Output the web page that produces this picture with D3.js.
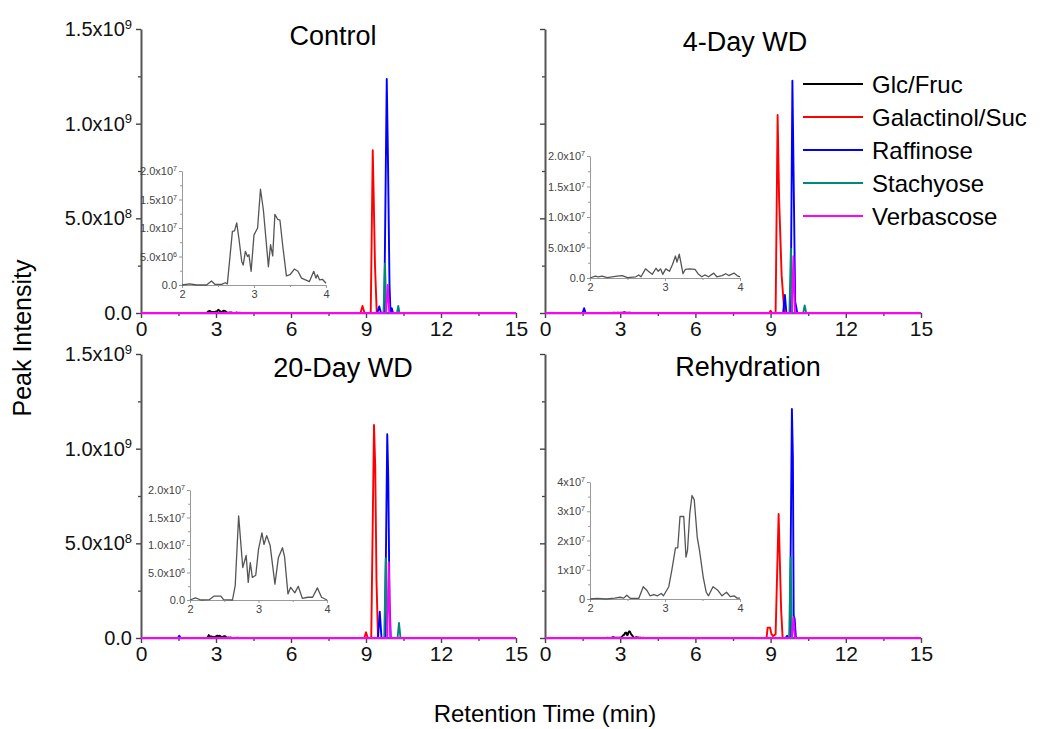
<!DOCTYPE html>
<html>
<head>
<meta charset="utf-8">
<script src="https://cdn.jsdelivr.net/npm/d3@7"></script>
<style>
  body { margin: 0; background: #fff; }
  text { font-family: "Liberation Sans", Arial, sans-serif; }
</style>
</head>
<body>
<svg id="chart" width="1050" height="729"></svg>
<script>
// ---- data (retention time in min, peak intensity) ----
var seriesNames = ["Glc/Fruc", "Galactinol/Suc", "Raffinose", "Stachyose", "Verbascose"];
var seriesColors = ["#000000", "#ff0000", "#0000ff", "#00897b", "#ff00ff"];
var panelTitles = ["Control", "4-Day WD", "20-Day WD", "Rehydration"];
var xTicks = [0, 3, 6, 9, 12, 15];
var yTicks = [0, 5e8, 1e9, 1.5e9];
var insetXTicks = [2, 3, 4];
var insetYTicks = [[0, 5e6, 1e7, 1.5e7, 2e7], [0, 5e6, 1e7, 1.5e7, 2e7], [0, 5e6, 1e7, 1.5e7, 2e7], [0, 1e7, 2e7, 3e7, 4e7]];

// Glc/Fruc traces (also shown magnified in the insets, 2-4 min)
var ctrlGlc = [[0,0],[2.0,0],[2.11,2e5],[2.2,0],[2.34,0],[2.41,7e5],[2.46,1e5],[2.55,1e5],[2.6,4e5],[2.63,2e5],[2.70,9.4e6],[2.73,9.5e6],[2.76,1.09e7],[2.79,8.2e6],[2.83,4.1e6],[2.85,3.5e6],[2.88,5.9e6],[2.91,5.0e6],[2.93,5.3e6],[2.96,2.4e6],[3.0,8.8e6],[3.05,1.0e7],[3.09,1.68e7],[3.13,1.32e7],[3.20,3.2e6],[3.23,7.1e6],[3.26,5.1e6],[3.29,1.24e7],[3.33,1.15e7],[3.36,1.14e7],[3.40,6.8e6],[3.45,1.6e6],[3.50,1.8e6],[3.56,2.8e6],[3.61,2.4e6],[3.66,1.2e6],[3.77,6e5],[3.83,2.4e6],[3.86,1.2e6],[3.88,1.8e6],[3.91,9e5],[3.95,1.0e6],[4.0,3e5],[15,0]];
var d4Glc = [[0,0],[2.0,0],[2.07,3e5],[2.11,2e5],[2.16,3e5],[2.23,5e4],[2.36,3e5],[2.43,4e5],[2.50,5e4],[2.61,2e5],[2.65,5e5],[2.68,2e5],[2.74,1.5e6],[2.79,1.0e6],[2.83,6e5],[2.88,1.6e6],[2.91,1.1e6],[2.94,1.5e6],[2.97,6e5],[3.01,1.5e6],[3.06,1.1e6],[3.10,2.2e6],[3.14,3.6e6],[3.16,2.6e6],[3.19,3.9e6],[3.24,7e5],[3.27,1.4e6],[3.33,1.5e6],[3.40,1.4e6],[3.44,7e5],[3.49,2e5],[3.53,5e5],[3.58,2e5],[3.65,8e5],[3.69,2e5],[3.76,4e5],[3.81,7e5],[3.85,4e5],[3.92,8e5],[3.96,4e5],[4.0,2e5],[15,0]];
var d20Glc = [[0,0],[2.0,0],[2.08,4e5],[2.16,0],[2.28,5e4],[2.35,7e5],[2.45,7e5],[2.49,5e4],[2.62,0],[2.66,2.6e6],[2.71,1.53e7],[2.77,5.9e6],[2.82,8.1e6],[2.85,3.2e6],[2.88,6.8e6],[2.91,4.1e6],[2.96,4.5e6],[3.0,9.2e6],[3.05,1.22e7],[3.08,1.01e7],[3.12,1.17e7],[3.17,9.9e6],[3.24,2.9e6],[3.29,7.7e6],[3.35,9.5e6],[3.38,7.9e6],[3.43,1.1e6],[3.47,2.3e6],[3.53,1.3e6],[3.58,2.5e6],[3.64,3e5],[3.72,5e5],[3.79,5e5],[3.86,2.2e6],[3.92,5e5],[4.0,0],[15,0]];
var rhGlc = [[0,0],[2.0,0],[2.09,2e5],[2.22,0],[2.33,3e5],[2.40,6e5],[2.45,3e5],[2.49,1.3e6],[2.54,2e5],[2.65,2e5],[2.71,4.2e6],[2.76,2.9e6],[2.80,1.1e6],[2.85,1.5e6],[2.90,1.1e6],[2.95,1.9e6],[2.98,1.1e6],[3.05,4.2e6],[3.09,9.7e6],[3.14,1.75e7],[3.17,1.75e7],[3.20,2.82e7],[3.25,2.82e7],[3.28,1.43e7],[3.30,1.66e7],[3.33,2.91e7],[3.36,3.54e7],[3.39,3.39e7],[3.43,2.11e7],[3.46,1.66e7],[3.51,7.4e6],[3.55,2.3e6],[3.58,1.1e6],[3.64,4.2e6],[3.70,3.1e6],[3.76,1.1e6],[3.82,2.3e6],[3.87,8e5],[3.92,1.1e6],[3.96,3e5],[4.0,3e5],[15,0]];

var ctrlGal = [[0,0],[8.78,0],[8.86,3.7e7],[8.94,0],[9.19,0],[9.27,8.6e8],[9.31,6.0e8],[9.36,2.5e8],[9.43,0],[15,0]];
var ctrlRaf = [[0,0],[9.45,0],[9.53,3.5e7],[9.60,0],[9.73,0],[9.83,1.236e9],[9.88,8.0e8],[9.94,1.5e8],[9.98,0],[10.03,2.5e7],[10.08,0],[15,0]];
var ctrlSta = [[0,0],[9.70,0],[9.76,2.62e8],[9.81,0],[10.24,0],[10.29,3.7e7],[10.34,0],[15,0]];
var ctrlVer = [[0,0],[9.80,0],[9.87,1.48e8],[9.93,0],[15,0]];

var d4Gal = [[0,0],[8.95,0],[9.0,1.2e7],[9.05,0],[9.20,0],[9.28,1.046e9],[9.34,6.0e8],[9.44,2.0e8],[9.55,0],[15,0]];
var d4Raf = [[0,0],[1.50,0],[1.56,2.5e7],[1.62,0],[9.50,0],[9.57,9.5e7],[9.63,0],[9.80,0],[9.87,1.227e9],[9.93,6.0e8],[9.98,6.0e7],[10.02,3.3e7],[10.06,0],[15,0]];
var d4Sta = [[0,0],[9.75,0],[9.81,3.4e8],[9.86,0],[10.30,0],[10.36,4.0e7],[10.42,0],[15,0]];
var d4Ver = [[0,0],[9.85,0],[9.91,3.0e8],[9.97,0],[15,0]];

var d20Gal = [[0,0],[8.93,0],[9.0,3.0e7],[9.07,0],[9.21,0],[9.32,1.125e9],[9.37,9.0e8],[9.42,3.0e8],[9.48,0],[15,0]];
var d20Raf = [[0,0],[1.48,0],[1.53,1.2e7],[1.58,0],[9.48,0],[9.55,1.39e8],[9.62,0],[9.76,0],[9.85,1.076e9],[9.89,8.5e8],[9.94,2.0e8],[9.99,0],[15,0]];
var d20Sta = [[0,0],[9.73,0],[9.79,4.2e8],[9.85,0],[10.26,0],[10.32,7.9e7],[10.38,0],[15,0]];
var d20Ver = [[0,0],[9.85,0],[9.91,4.0e8],[9.97,0],[15,0]];

var rhGal = [[0,0],[8.84,0],[8.88,5.5e7],[8.98,5.5e7],[9.03,2.2e7],[9.10,1.0e7],[9.20,2.0e7],[9.32,6.55e8],[9.37,4.0e8],[9.42,1.5e8],[9.48,0],[15,0]];
var rhRaf = [[0,0],[9.60,0],[9.66,1.2e7],[9.72,0],[9.77,0],[9.85,1.21e9],[9.89,9.5e8],[9.92,1.2e8],[9.96,1.0e8],[10.01,0],[15,0]];
var rhSta = [[0,0],[9.74,0],[9.80,4.26e8],[9.85,0],[15,0]];
var rhVer = [[0,0],[9.85,0],[9.91,1.1e8],[9.97,0],[15,0]];

var panelData = [
  [ctrlGlc, ctrlGal, ctrlRaf, ctrlSta, ctrlVer],
  [d4Glc, d4Gal, d4Raf, d4Sta, d4Ver],
  [d20Glc, d20Gal, d20Raf, d20Sta, d20Ver],
  [rhGlc, rhGal, rhRaf, rhSta, rhVer]
];

// ---- layout ----
var panels = [
  {x0: 141, x1: 516, y0: 29, y1: 313, tx: 333, ty: 36, labels: true,
   inset: {x0: 182, x1: 326, y0: 171, y1: 285}},
  {x0: 545, x1: 921, y0: 29, y1: 313, tx: 745, ty: 42, labels: false,
   inset: {x0: 590, x1: 740, y0: 156, y1: 278}},
  {x0: 141, x1: 516, y0: 354, y1: 638, tx: 343, ty: 368, labels: true,
   inset: {x0: 190, x1: 327, y0: 490, y1: 600}},
  {x0: 545, x1: 921, y0: 354, y1: 638, tx: 748, ty: 367, labels: false,
   inset: {x0: 590, x1: 740, y0: 482, y1: 599}}
];

var svg = d3.select("#chart");

function sciLabel(sel, v, decimals) {
  sel.text(null);
  if (v === 0) { sel.text(decimals ? "0.0" : "0"); return; }
  var e = Math.floor(Math.log10(v) + 1e-9);
  var m = v / Math.pow(10, e);
  sel.append("tspan").text((decimals ? m.toFixed(1) : m.toFixed(0)) + "x10");
  sel.append("tspan").attr("dy", "-0.55em").style("font-size", "0.65em").text(e);
}

panels.forEach(function(p, i) {
  var x = d3.scaleLinear().domain([0, 15]).range([p.x0, p.x1]);
  var y = d3.scaleLinear().domain([0, 1.5e9]).range([p.y1, p.y0]);
  var g = svg.append("g");

  // minor ticks
  g.append("g")
    .attr("transform", "translate(0," + p.y1 + ")")
    .call(d3.axisBottom(x).tickValues(d3.range(1.5, 15, 3)).tickSize(3).tickSizeOuter(0).tickFormat(""))
    .call(function(a) { a.select(".domain").remove(); a.selectAll("line").attr("stroke", "#444").attr("stroke-width", 1.3); });
  g.append("g")
    .attr("transform", "translate(" + p.x0 + ",0)")
    .call(d3.axisLeft(y).tickValues([2.5e8, 7.5e8, 1.25e9]).tickSize(3).tickSizeOuter(0).tickFormat(""))
    .call(function(a) { a.select(".domain").remove(); a.selectAll("line").attr("stroke", "#444").attr("stroke-width", 1.3); });

  // major x axis
  var xa = g.append("g")
    .attr("transform", "translate(0," + p.y1 + ")")
    .call(d3.axisBottom(x).tickValues(xTicks).tickSize(5).tickSizeOuter(0).tickPadding(3));
  xa.select(".domain").attr("stroke", "#444").attr("stroke-width", 1.6);
  xa.selectAll("line").attr("stroke", "#444").attr("stroke-width", 1.4);
  xa.selectAll("text").style("font-size", "21px").attr("fill", "#111");

  // major y axis
  var ya = g.append("g")
    .attr("transform", "translate(" + p.x0 + ",0)")
    .call(d3.axisLeft(y).tickValues(yTicks).tickSize(5).tickSizeOuter(0).tickPadding(4));
  ya.select(".domain").attr("stroke", "#555").attr("stroke-width", 2);
  ya.selectAll("line").attr("stroke", "#444").attr("stroke-width", 1.4);
  ya.selectAll("text").style("font-size", "20px").attr("fill", "#111")
    .each(function(d) {
      if (p.labels) sciLabel(d3.select(this), d, true);
      else d3.select(this).text("");
    });

  // panel title
  g.append("text")
    .attr("x", p.tx).attr("y", p.ty)
    .attr("text-anchor", "middle").attr("dominant-baseline", "central")
    .style("font-size", "27px").attr("fill", "#000")
    .text(panelTitles[i]);

  // chromatogram traces
  var line = d3.line().x(function(d) { return x(d[0]); }).y(function(d) { return y(d[1]); });
  panelData[i].forEach(function(s, k) {
    g.append("path")
      .datum(s)
      .attr("fill", "none")
      .attr("stroke", seriesColors[k])
      .attr("stroke-width", 1.9)
      .attr("stroke-linejoin", "round")
      .attr("d", line);
  });

  // inset: Glc/Fruc between 2 and 4 min
  var q = p.inset;
  var yTickVals = insetYTicks[i];
  var ix = d3.scaleLinear().domain([2, 4]).range([q.x0, q.x1]);
  var iy = d3.scaleLinear().domain([0, yTickVals[yTickVals.length - 1]]).range([q.y1, q.y0]);
  var ig = svg.append("g");

  var step = yTickVals[1] - yTickVals[0];
  ig.append("g")
    .attr("transform", "translate(" + q.x0 + ",0)")
    .call(d3.axisLeft(iy).tickValues(yTickVals.slice(0, -1).map(function(v) { return v + step / 2; })).tickSize(2).tickSizeOuter(0).tickFormat(""))
    .call(function(a) { a.select(".domain").remove(); a.selectAll("line").attr("stroke", "#999"); });
  ig.append("g")
    .attr("transform", "translate(0," + q.y1 + ")")
    .call(d3.axisBottom(ix).tickValues([2.5, 3.5]).tickSize(2).tickSizeOuter(0).tickFormat(""))
    .call(function(a) { a.select(".domain").remove(); a.selectAll("line").attr("stroke", "#999"); });

  var ixa = ig.append("g")
    .attr("transform", "translate(0," + q.y1 + ")")
    .call(d3.axisBottom(ix).tickValues(insetXTicks).tickSize(3).tickSizeOuter(0).tickPadding(2).tickFormat(d3.format("d")));
  ixa.select(".domain").attr("stroke", "#999");
  ixa.selectAll("line").attr("stroke", "#999");
  ixa.selectAll("text").style("font-size", "11px").attr("fill", "#444");

  var iya = ig.append("g")
    .attr("transform", "translate(" + q.x0 + ",0)")
    .call(d3.axisLeft(iy).tickValues(yTickVals).tickSize(3).tickSizeOuter(0).tickPadding(2));
  iya.select(".domain").attr("stroke", "#999");
  iya.selectAll("line").attr("stroke", "#999");
  iya.selectAll("text").style("font-size", "11px").attr("fill", "#444")
    .each(function(d) { sciLabel(d3.select(this), d, i !== 3); });

  var iline = d3.line()
    .defined(function(d) { return d[0] >= 2 && d[0] <= 4; })
    .x(function(d) { return ix(d[0]); }).y(function(d) { return iy(d[1]); });
  ig.append("path")
    .datum(panelData[i][0])
    .attr("fill", "none")
    .attr("stroke", "#555")
    .attr("stroke-width", 1.3)
    .attr("stroke-linejoin", "round")
    .attr("d", iline);
});

// legend (in the 4-Day WD panel)
var legend = svg.append("g").attr("transform", "translate(803,84)");
seriesNames.forEach(function(name, k) {
  var row = legend.append("g").attr("transform", "translate(0," + (k * 33) + ")");
  row.append("line").attr("x1", 0).attr("x2", 60).attr("y1", 0).attr("y2", 0)
    .attr("stroke", seriesColors[k]).attr("stroke-width", 1.8);
  row.append("text").attr("x", 69).attr("y", 0).attr("dominant-baseline", "central")
    .style("font-size", "24px").attr("fill", "#000").text(name);
});

// axis titles
svg.append("text")
  .attr("transform", "translate(22,338) rotate(-90)")
  .attr("text-anchor", "middle").attr("dominant-baseline", "central")
  .style("font-size", "25px").attr("fill", "#000")
  .text("Peak Intensity");
svg.append("text")
  .attr("x", 545).attr("y", 713)
  .attr("text-anchor", "middle").attr("dominant-baseline", "central")
  .style("font-size", "24px").attr("fill", "#000")
  .text("Retention Time (min)");
</script>
</body>
</html>
